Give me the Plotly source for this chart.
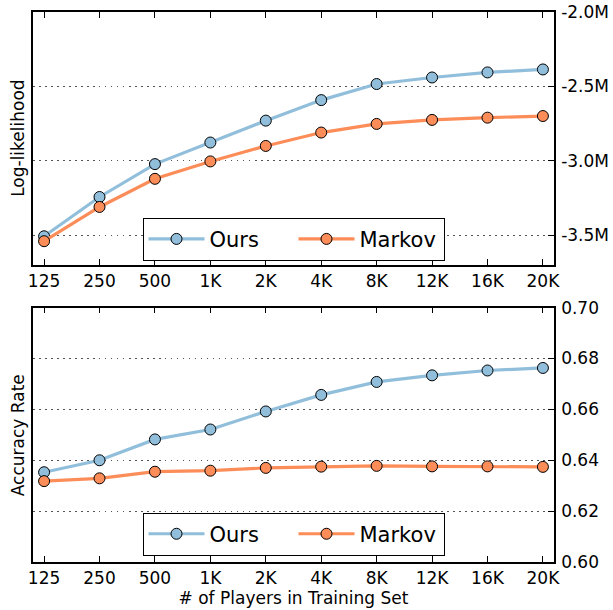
import plotly.graph_objects as go

players = ["125", "250", "500", "1K", "2K", "4K", "8K", "12K", "16K", "20K"]

# Log-likelihood (in millions)
ll_ours = [-3.507, -3.243, -3.022, -2.877, -2.730, -2.592, -2.484, -2.440, -2.406, -2.386]
ll_markov = [-3.540, -3.310, -3.121, -3.004, -2.900, -2.810, -2.752, -2.725, -2.710, -2.699]

# Accuracy rate
acc_ours = [0.6353, 0.6400, 0.6482, 0.6521, 0.6592, 0.6657, 0.6708, 0.6734, 0.6753, 0.6763]
acc_markov = [0.6318, 0.6329, 0.6355, 0.6359, 0.6370, 0.6375, 0.6378, 0.6376, 0.6376, 0.6374]

ll_tickvals = [-3.5, -3.0, -2.5, -2.0]
ll_ticktext = ["-3.5M", "-3.0M", "-2.5M", "-2.0M"]
acc_tickvals = [0.60, 0.62, 0.64, 0.66, 0.68, 0.70]
acc_ticktext = ["0.60", "0.62", "0.64", "0.66", "0.68", "0.70"]

BLUE = "#91bfdb"
ORANGE = "#fc8d59"
FONT = "DejaVu Sans"

fig = go.Figure()


def add_series(x, y, name, color, xaxis, yaxis, legend):
    fig.add_trace(go.Scatter(
        x=x, y=y, name=name, mode="lines+markers",
        line=dict(color=color, width=3.2),
        marker=dict(size=11, color=color, line=dict(color="black", width=1)),
        xaxis=xaxis, yaxis=yaxis, legend=legend,
    ))


add_series(players, ll_ours, "Ours", BLUE, "x", "y", "legend")
add_series(players, ll_markov, "Markov", ORANGE, "x", "y", "legend")
add_series(players, acc_ours, "Ours", BLUE, "x2", "y2", "legend2")
add_series(players, acc_markov, "Markov", ORANGE, "x2", "y2", "legend2")

xcommon = dict(
    type="category", range=[-0.2, 9.2], showline=True, linecolor="black", linewidth=1.5,
    mirror="allticks", ticks="inside", ticklen=6, tickwidth=1, tickcolor="black",
    showgrid=False, zeroline=False, automargin=False, ticklabelstandoff=0,
    tickfont=dict(family=FONT, size=17, color="black"),
)
ycommon = dict(
    side="right", showline=True, linecolor="black", linewidth=1.5, mirror=True,
    ticks="inside", ticklen=6, tickwidth=1, tickcolor="black", automargin=False,
    showgrid=True, gridcolor="#555", griddash="1.5px,4.5px", gridwidth=1, zeroline=False,
    ticklabelstandoff=2,
    tickfont=dict(family=FONT, size=17, color="black"),
)

legcommon = dict(
    orientation="h", xanchor="center", x=0.5, yanchor="bottom",
    bgcolor="white", bordercolor="black", borderwidth=1,
    font=dict(family=FONT, size=21, color="black"), itemwidth=56,
    entrywidth=79,
)

fig.update_layout(
    width=613, height=610,
    margin=dict(l=33, r=59, t=12, b=48),
    plot_bgcolor="white", paper_bgcolor="white",
    font=dict(family=FONT, size=17, color="black"),
    xaxis=dict(**xcommon, domain=[0, 1], anchor="y"),
    yaxis=dict(**ycommon, domain=[0.54, 1.0], range=[-3.7, -2.0], anchor="x",
               tickvals=ll_tickvals, ticktext=ll_ticktext),
    xaxis2=dict(**xcommon, domain=[0, 1], anchor="y2",
                title=dict(text="# of Players in Training Set", font=dict(family=FONT, size=17), standoff=2)),
    yaxis2=dict(**ycommon, domain=[0, 0.4624], range=[0.60, 0.70], anchor="x2",
                tickvals=acc_tickvals, ticktext=acc_ticktext),
    legend=dict(**legcommon, y=0.5477),
    legend2=dict(**legcommon, y=0.0116),
    annotations=[
        dict(text="Log-likelihood", xref="paper", yref="paper", x=-0.03, y=0.77,
             xanchor="center", yanchor="middle", textangle=-90, showarrow=False,
             font=dict(family=FONT, size=17, color="black")),
        dict(text="Accuracy Rate", xref="paper", yref="paper", x=-0.03, y=0.2312,
             xanchor="center", yanchor="middle", textangle=-90, showarrow=False,
             font=dict(family=FONT, size=17, color="black")),
    ],
)

fig.write_html("out.html", config={"displayModeBar": False},
               post_script="document.body.style.margin='0px';document.body.style.overflow='hidden';")
